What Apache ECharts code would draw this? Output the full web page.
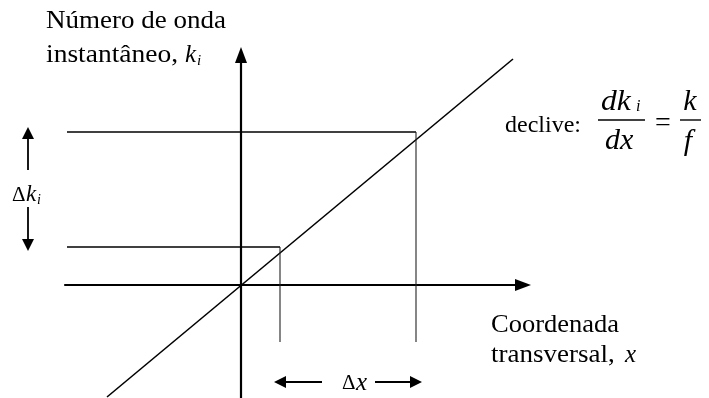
<!DOCTYPE html>
<html><head><meta charset="utf-8">
<script src="https://cdn.jsdelivr.net/npm/echarts@6/dist/echarts.min.js"></script>
<style>html,body{margin:0;padding:0;background:#fff}#c{width:709px;height:398px}</style>
</head><body><div id="c"></div>
<script>
// Axis extents (arbitrary units, origin where the axes cross)
const xRange = [-176, 282];
const yRange = [-113, 230];
// The straight line k_i(x)
const slopeLineX = [-134, 272];
const slopeLineY = [-112, 226];
// Two sampled transverse positions and their instantaneous wavenumbers
const xSamples = [39, 175];
const kSamples = [38, 153];
const guideStartX = -174;
const guideBottomY = -57;
// Annotation arrows (Δk_i on the left, Δx at the bottom)
const dkArrowX = -213;
const dkArrowUp = [115, 152];
const dkArrowDown = [78, 40];
const dxArrowY = -97;
const dxArrowLeft = [81, 39];
const dxArrowRight = [134, 175];

const FONT = '"Liberation Serif", "Times New Roman", serif';
const chart = echarts.init(document.getElementById('c'), null, {renderer: 'canvas'});

function txt(text, x, y, size, o) {
  o = o || {};
  const font = (o.italic ? 'italic ' : '') + size + 'px ' + FONT;
  return {
    type: 'text', x: x, y: y, scaleX: o.sx || 1, z: 10,
    style: {
      text: text, font: font, fill: '#000',
      align: o.align || 'left', verticalAlign: 'middle',
      textAlign: o.align || 'left', textVerticalAlign: 'middle'
    }
  };
}
function bar(x1, x2, y) {
  return {type: 'line', z: 10, shape: {x1: x1, y1: y, x2: x2, y2: y}, style: {stroke: '#000', lineWidth: 1.4}};
}

const black = '#000';
const arrowSeries = (pairs) => ({
  type: 'lines', coordinateSystem: 'cartesian2d', clip: false, silent: true,
  symbol: ['none', 'triangle'], symbolSize: 12,
  lineStyle: {color: black, width: 1.8, opacity: 1},
  data: pairs.map(p => ({coords: p}))
});

const option = {
  animation: false,
  backgroundColor: '#fff',
  grid: {left: 65, right: 709 - 523, top: 55, bottom: 0, containLabel: false},
  xAxis: {
    type: 'value', min: xRange[0], max: xRange[1],
    axisLine: {show: true, onZero: true, symbol: ['none', 'triangle'], symbolSize: [12, 16],
      lineStyle: {color: black, width: 2.2}},
    axisTick: {show: false}, axisLabel: {show: false}, splitLine: {show: false}
  },
  yAxis: {
    type: 'value', min: yRange[0], max: yRange[1],
    axisLine: {show: true, onZero: true, symbol: ['none', 'triangle'], symbolSize: [12, 16],
      lineStyle: {color: black, width: 2.2}},
    axisTick: {show: false}, axisLabel: {show: false}, splitLine: {show: false}
  },
  series: [
    {
      type: 'line', symbol: 'none', clip: false, silent: true,
      lineStyle: {color: black, width: 1.6},
      data: slopeLineX.map((x, i) => [x, slopeLineY[i]])
    },
    {
      type: 'line', symbol: 'none', clip: false, silent: true,
      lineStyle: {color: black, width: 1.5},
      data: [[guideStartX, kSamples[1]], [xSamples[1], kSamples[1]]]
    },
    {
      type: 'line', symbol: 'none', clip: false, silent: true,
      lineStyle: {color: black, width: 1.5},
      data: [[guideStartX, kSamples[0]], [xSamples[0], kSamples[0]]]
    },
    {
      type: 'line', symbol: 'none', clip: false, silent: true,
      lineStyle: {color: '#222', width: 1.1},
      data: [[xSamples[0], kSamples[0]], [xSamples[0], guideBottomY]]
    },
    {
      type: 'line', symbol: 'none', clip: false, silent: true,
      lineStyle: {color: '#222', width: 1.1},
      data: [[xSamples[1], kSamples[1]], [xSamples[1], guideBottomY]]
    },
    arrowSeries([
      [[dkArrowX, dkArrowUp[0]], [dkArrowX, dkArrowUp[1]]],
      [[dkArrowX, dkArrowDown[0]], [dkArrowX, dkArrowDown[1]]],
      [[dxArrowLeft[0], dxArrowY], [dxArrowLeft[1], dxArrowY]],
      [[dxArrowRight[0], dxArrowY], [dxArrowRight[1], dxArrowY]]
    ])
  ],
  graphic: [
    txt('Número de onda', 46, 21, 25, {sx: 1.08}),
    txt('instantâneo,', 46, 55, 25, {sx: 1.1}),
    txt('k', 185, 55, 25, {italic: true}),
    txt('i', 197, 61, 15, {italic: true}),
    txt('Δ', 12, 195, 21),
    txt('k', 26, 195, 23, {italic: true}),
    txt('i', 37, 200, 14, {italic: true}),
    txt('Δ', 342, 383, 21),
    txt('x', 356, 383, 25, {italic: true}),
    txt('declive:', 505, 126, 24),
    txt('dk', 601, 102, 30, {italic: true, sx: 1.05}),
    txt('i', 636, 107, 16, {italic: true}),
    bar(598, 645, 120),
    txt('dx', 605, 141, 30, {italic: true}),
    txt('=', 663, 124, 28, {align: 'center'}),
    txt('k', 690, 102, 30, {italic: true, align: 'center'}),
    bar(680, 701, 120),
    txt('f', 688, 142, 30, {italic: true, align: 'center'}),
    txt('Coordenada', 491, 325, 25, {sx: 1.06}),
    txt('transversal,', 491, 355, 25, {sx: 1.08}),
    txt('x', 625, 355, 25, {italic: true})
  ]
};
chart.setOption(option);
</script>
</body></html>
